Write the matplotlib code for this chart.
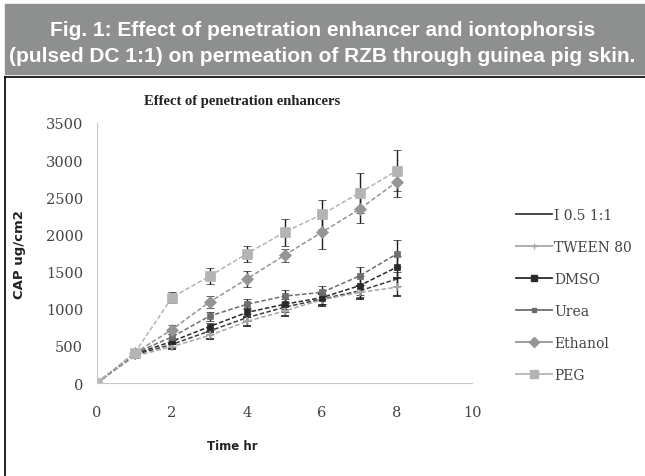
import matplotlib.pyplot as plt
from matplotlib.lines import Line2D
from matplotlib.patches import Rectangle

# Cumulative amount permeated (ug/cm2) vs time (hr)
time_hr = [0, 1, 2, 3, 4, 5, 6, 7, 8]
series_names = ['I 0.5 1:1', 'TWEEN 80', 'DMSO', 'Urea', 'Ethanol', 'PEG']
i05 = [0, 380, 520, 700, 880, 1020, 1130, 1240, 1400]
tween80 = [0, 360, 490, 640, 830, 970, 1120, 1220, 1290]
dmso = [0, 390, 560, 760, 950, 1060, 1150, 1310, 1560]
urea = [0, 400, 620, 900, 1060, 1170, 1220, 1440, 1740]
ethanol = [0, 400, 720, 1090, 1400, 1720, 2030, 2340, 2710]
peg = [0, 400, 1150, 1440, 1740, 2030, 2270, 2560, 2860]

i05_err = [0, 20, 30, 40, 50, 60, 70, 80, 90]
tween80_err = [0, 20, 30, 50, 60, 70, 80, 90, 120]
dmso_err = [0, 20, 40, 50, 60, 70, 90, 130, 150]
urea_err = [0, 20, 40, 60, 70, 80, 90, 120, 180]
ethanol_err = [0, 20, 60, 80, 110, 90, 230, 180, 200]
peg_err = [0, 20, 70, 110, 110, 180, 200, 270, 280]

values = [i05, tween80, dmso, urea, ethanol, peg]
errors = [i05_err, tween80_err, dmso_err, urea_err, ethanol_err, peg_err]
colors = ['#3c3c3c', '#a8a8a8', '#2a2a2a', '#6e6e6e', '#959595', '#b4b4b4']
markers = [None, '+', 's', 's', 'D', 's']
msizes = [0, 6, 5, 4, 6, 7]

fig = plt.figure(figsize=(6.45, 4.77), dpi=100)

# grey caption band
fig.patches.append(Rectangle((5 / 645, 1 - 75 / 477), 640 / 645, 70 / 477,
                             transform=fig.transFigure, color='#8e9090', zorder=0))
cap_font = ['Liberation Sans Narrow', 'Liberation Sans']
fig.text(0.5, 1 - 30 / 477, 'Fig. 1: Effect of penetration enhancer and iontophorsis',
         ha='center', va='center', color='white', fontsize=15, fontweight='bold', family=cap_font)
fig.text(0.5, 1 - 57 / 477, '(pulsed DC 1:1) on permeation of RZB through guinea pig skin.',
         ha='center', va='center', color='white', fontsize=15, fontweight='bold', family=cap_font)
# chart frame lines
fig.add_artist(Line2D([5 / 645, 1], [1 - 78 / 477, 1 - 78 / 477], color='black', lw=1.2,
                      transform=fig.transFigure))
fig.add_artist(Line2D([5 / 645, 5 / 645], [0, 1 - 78 / 477], color='black', lw=1.2,
                      transform=fig.transFigure))

ax = fig.add_axes([97 / 645, 1 - 384 / 477, 375 / 645, 260 / 477])
for name, v, e, c, m, ms in zip(series_names, values, errors, colors, markers, msizes):
    ax.errorbar(time_hr, v, yerr=e, color=c, marker=m, markersize=ms, linestyle=(0, (3, 1.5)),
                linewidth=1.1, ecolor='#1e1e1e', elinewidth=1, capsize=3, capthick=1.5,
                markeredgecolor=c, markeredgewidth=1.2 if m == '+' else 0.5)

ax.set_xlim(0, 10)
ax.set_ylim(0, 3500)
ax.set_xticks([0, 2, 4, 6, 8, 10])
ax.set_yticks(range(0, 3501, 500))
for s in ['top', 'right']:
    ax.spines[s].set_visible(False)
for s in ['left', 'bottom']:
    ax.spines[s].set_color('#c8c8c8')
ax.tick_params(length=0, labelsize=10.5, labelcolor='#444444')
ax.tick_params(axis='y', pad=10)
ax.tick_params(axis='x', pad=16)
for lab in ax.get_xticklabels() + ax.get_yticklabels():
    lab.set_family('DejaVu Serif')

fig.text(242 / 645, 1 - 101 / 477, 'Effect of penetration enhancers', ha='center', va='center',
         fontsize=10.5, family='Liberation Serif', fontweight='bold', color='#222222')
fig.text(232 / 645, 1 - 447 / 477, 'Time hr', ha='center', va='center', fontsize=8.5,
         fontweight='bold', color='#222222')
fig.text(20 / 645, 1 - 255 / 477, 'CAP ug/cm2', ha='center', va='center', rotation=90,
         fontsize=9.5, fontweight='bold', color='#222222')

handles = [Line2D([0], [0], color=c, marker=m, markersize=ms * 0.8, lw=1.3,
                  markeredgecolor=c) for c, m, ms in zip(colors, markers, msizes)]
leg = fig.legend(handles, series_names, loc='upper left',
                 bbox_to_anchor=(510 / 645, 1 - 203 / 477), frameon=False,
                 prop={'family': 'DejaVu Serif', 'size': 10}, labelspacing=1.3,
                 handlelength=2.6, handletextpad=0.2, borderaxespad=0)
for t in leg.get_texts():
    t.set_color('#444444')

fig.savefig('out.png', dpi=100)
